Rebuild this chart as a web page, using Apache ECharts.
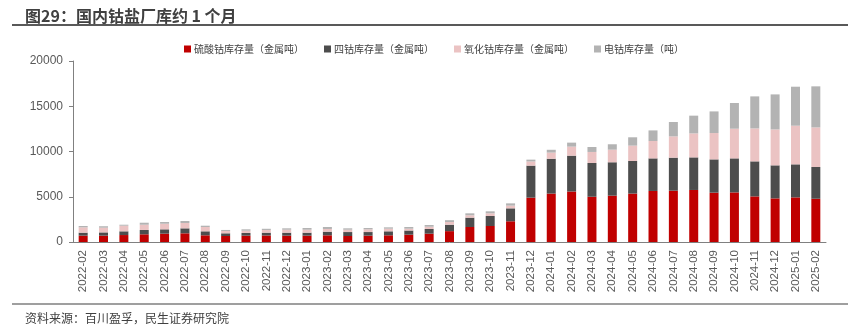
<!DOCTYPE html>
<html><head><meta charset="utf-8">
<script src="https://cdn.jsdelivr.net/npm/echarts@6/dist/echarts.min.js"></script>
<style>html,body{margin:0;padding:0;background:#fff}#c{width:848px;height:330px}</style>
</head><body><div id="c"></div>
<script>
const categories = ['2022-02','2022-03','2022-04','2022-05','2022-06','2022-07','2022-08','2022-09','2022-10','2022-11','2022-12',
'2023-01','2023-02','2023-03','2023-04','2023-05','2023-06','2023-07','2023-08','2023-09','2023-10','2023-11','2023-12',
'2024-01','2024-02','2024-03','2024-04','2024-05','2024-06','2024-07','2024-08','2024-09','2024-10','2024-11','2024-12',
'2025-01','2025-02'];
const cobaltSulfate = [700,700,770,850,920,960,740,660,700,720,700,700,740,660,700,740,810,920,1200,1660,1770,2290,4900,5350,5580,5000,5120,5350,5640,5670,5750,5450,5480,5040,4820,4930,4780];
const cobaltTetroxide = [330,360,410,480,480,550,440,300,300,310,330,330,400,440,400,440,460,520,710,1030,1100,1430,3540,3850,3960,3730,3690,3600,3600,3650,3600,3680,3760,3870,3650,3650,3510];
const cobaltChloride = [590,520,620,580,620,590,480,260,250,300,330,330,300,260,300,290,200,250,300,260,300,300,460,680,1000,1220,1390,1700,1920,2350,2650,2910,3280,3640,3970,4270,4370];
const electroCobalt = [150,160,110,220,190,220,140,110,150,130,150,190,220,150,150,150,190,190,200,220,220,250,200,310,440,550,600,920,1170,1590,1960,2390,2840,3540,3870,4310,4540];
const seriesNames = ['硫酸钴库存量（金属吨）','四钴库存量（金属吨）','氧化钴库存量（金属吨）','电钴库存量（吨）'];
const colors = ['#C00000','#4D4D4D','#EBC3C3','#B3B3B3'];
const yTicks = {min:0, max:20000, interval:5000};

const cjk = '"Liberation Sans", "Noto Sans CJK SC", sans-serif';
const chart = echarts.init(document.getElementById('c'), null, {renderer:'canvas'});
const dataSets = [cobaltSulfate, cobaltTetroxide, cobaltChloride, electroCobalt];
chart.setOption({
  animation:false,
  color: colors,
  title:[
    {text:'图29：国内钴盐厂库约 1 个月', left:20, top:3, textStyle:{fontFamily:'"Noto Sans CJK SC", sans-serif', fontSize:16, fontWeight:'bold', color:'#404040'}},
    {text:'资料来源：百川盈孚，民生证券研究院', left:20, top:307, textStyle:{fontFamily:'"Noto Sans CJK SC", sans-serif', fontSize:12, fontWeight:'normal', color:'#404040'}}
  ],
  graphic:[
    {type:'line', shape:{x1:12,y1:25,x2:848,y2:25}, style:{stroke:'#595959', lineWidth:2}},
    {type:'line', shape:{x1:12,y1:304,x2:848,y2:304}, style:{stroke:'#7F7F7F', lineWidth:1.5}}
  ],
  legend:{
    left:179, top:39, itemWidth:7, itemHeight:7, itemGap:20, icon:'rect',
    textStyle:{fontFamily:'"Noto Sans CJK SC", sans-serif', fontSize:10, color:'#404040', padding:[0,0,0,-2]},
    data: seriesNames
  },
  grid:{left:73, right:22, top:61, bottom:88, containLabel:false},
  xAxis:{
    type:'category', data:categories,
    axisLine:{lineStyle:{color:'#808080', width:1}},
    axisTick:{show:false},
    axisLabel:{rotate:90, interval:0, margin:8, fontFamily:cjk, fontSize:11.5, color:'#595959'}
  },
  yAxis:{
    type:'value', min:yTicks.min, max:yTicks.max, interval:yTicks.interval,
    splitLine:{show:false},
    axisLine:{show:true, lineStyle:{color:'#808080'}},
    axisTick:{show:true, length:4, lineStyle:{color:'#808080'}},
    axisLabel:{fontFamily:cjk, fontSize:12, color:'#595959', margin:10, formatter:v=>String(v)}
  },
  series: seriesNames.map((n,i)=>({
    name:n, type:'bar', stack:'total', data:dataSets[i], barWidth:9,
    itemStyle:{color:colors[i]}
  }))
});
</script></body></html>
